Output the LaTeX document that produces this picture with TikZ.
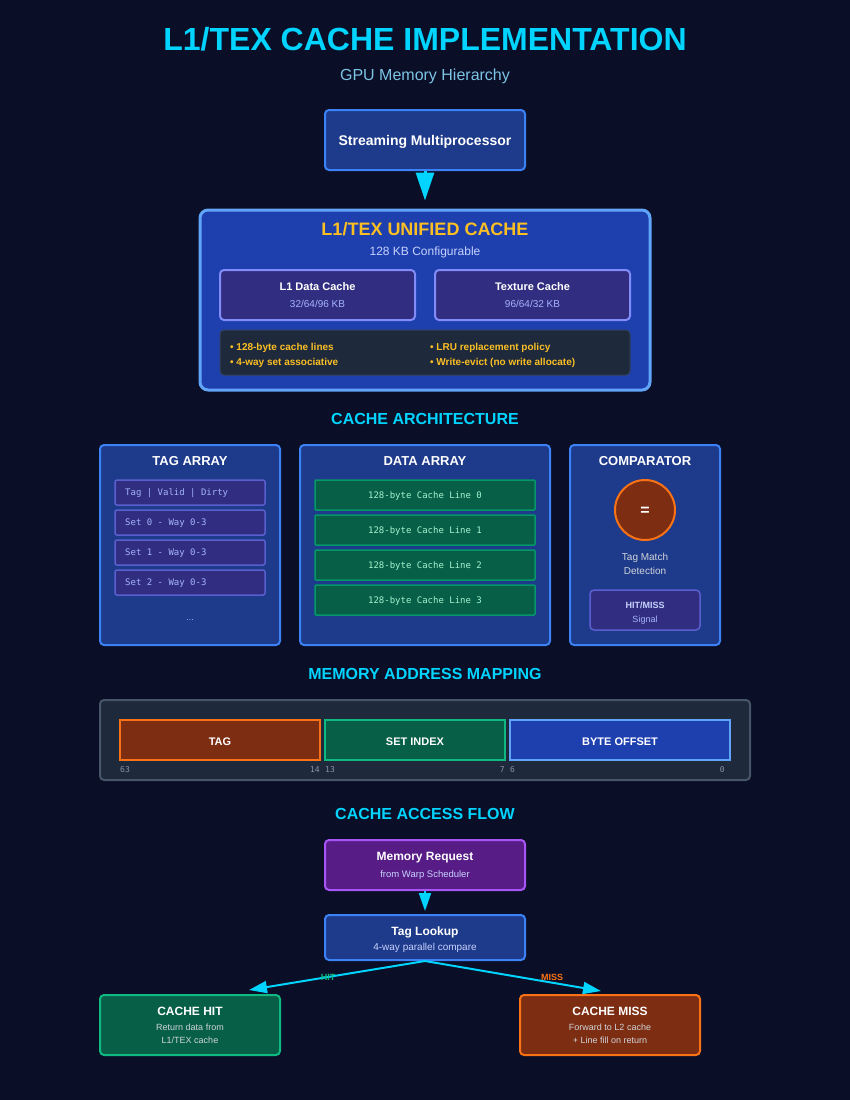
\documentclass[tikz,border=0pt]{standalone}
\usepackage{fontspec}
\setmainfont{Liberation Sans}
\setmonofont{DejaVu Sans Mono}
\usetikzlibrary{arrows.meta}
\definecolor{bgc}{HTML}{0A0E27}
\definecolor{cyanT}{HTML}{00D4FF}
\definecolor{subt}{HTML}{7DC4E4}
\definecolor{blueF}{HTML}{1E3A8A}
\definecolor{blueB}{HTML}{3B82F6}
\definecolor{l1F}{HTML}{1E40AF}
\definecolor{l1B}{HTML}{60A5FA}
\definecolor{yel}{HTML}{FBBF24}
\definecolor{indF}{HTML}{312E81}
\definecolor{indB}{HTML}{818CF8}
\definecolor{indB2}{HTML}{5A5FCF}
\definecolor{indT}{HTML}{A5B4FC}
\definecolor{slateF}{HTML}{1E293B}
\definecolor{slateB}{HTML}{334155}
\definecolor{slateB2}{HTML}{475569}
\definecolor{grnF}{HTML}{065F46}
\definecolor{grnB}{HTML}{10B981}
\definecolor{grnB2}{HTML}{059669}
\definecolor{grnT}{HTML}{A7F3D0}
\definecolor{orgF}{HTML}{7C2D12}
\definecolor{orgB}{HTML}{F97316}
\definecolor{purF}{HTML}{581C87}
\definecolor{purB}{HTML}{A855F7}
\definecolor{lav}{HTML}{C7D2FE}
\definecolor{grayT}{HTML}{D1D5DB}
\definecolor{bitT}{HTML}{8A94A6}
\newcommand\fsz[1]{\fontsize{#1}{#1}\selectfont}
\begin{document}
\begin{tikzpicture}[x=1pt,y=-1pt,
  bx/.style={draw, rounded corners=4, line width=2pt, inner sep=0pt},
  lb/.style={inner sep=0pt, anchor=base},
  lw/.style={inner sep=0pt, anchor=base west},
  le/.style={inner sep=0pt, anchor=base east},
  arrbig/.style={cyanT, line width=3pt, -{Triangle[width=18pt,length=28pt]}},
  arrsm/.style={cyanT, line width=2pt, -{Triangle[width=12pt,length=18pt]}}]
\fill[bgc] (0,0) rectangle (850,1100);
\useasboundingbox (0,0) rectangle (850,1100);

% title
\node[lb, text=cyanT, font=\fsz{32}\bfseries] (title) at (425,50.5) {L1/TEX CACHE IMPLEMENTATION};
\node[lb, text=subt, font=\fsz{16}] (subtitle) at (425,80.5) {GPU Memory Hierarchy};

% SM
\node[bx, fill=blueF, draw=blueB, minimum width=200pt, minimum height=60pt] (sm) at (425,140) {};
\node[lb, text=white, font=\fsz{14}\bfseries] (smt) at (425,145) {Streaming Multiprocessor};

% L1 unified cache
\node[bx, fill=l1F, draw=l1B, line width=3pt, rounded corners=8, minimum width=450pt, minimum height=180pt] (l1) at (425,300) {};
\draw[arrbig, shorten >=8pt] (sm.south) -- (l1.north);
\node[lb, text=yel, font=\fsz{18}\bfseries] (l1t) at (425,235.5) {L1/TEX UNIFIED CACHE};
\node[lb, text=lav, font=\fsz{12}] (l1s) at (425,255.3) {128 KB Configurable};
\node[bx, fill=indF, draw=indB, minimum width=195pt, minimum height=50pt] (l1d) at (317.5,295) {};
\node[lb, text=white, font=\fsz{11}\bfseries] (l1dt) at (317.5,290) {L1 Data Cache};
\node[lb, text=indT, font=\fsz{10}] (l1ds) at (317.5,307.6) {32/64/96 KB};
\node[bx, fill=indF, draw=indB, minimum width=195pt, minimum height=50pt] (tex) at (532.5,295) {};
\node[lb, text=white, font=\fsz{11}\bfseries] (text) at (532.5,290) {Texture Cache};
\node[lb, text=indT, font=\fsz{10}] (texs) at (532.5,307.6) {96/64/32 KB};
\node[bx, fill=slateF, draw=slateB, line width=1pt, minimum width=410pt, minimum height=45pt] (feat) at (425,352.5) {};
\node[lw, text=yel, font=\fsz{10}\bfseries] (f1) at (230,350.6) {• 128-byte cache lines};
\node[lw, text=yel, font=\fsz{10}\bfseries] (f2) at (230,365.6) {• 4-way set associative};
\node[lw, text=yel, font=\fsz{10}\bfseries] (f3) at (430,350.6) {• LRU replacement policy};
\node[lw, text=yel, font=\fsz{10}\bfseries] (f4) at (430,365.6) {• Write-evict (no write allocate)};

% cache architecture
\node[lb, text=cyanT, font=\fsz{16}\bfseries] (archh) at (425,424.7) {CACHE ARCHITECTURE};

\node[bx, fill=blueF, draw=blueB, minimum width=180pt, minimum height=200pt] (tag) at (190,545) {};
\node[lb, text=white, font=\fsz{13}\bfseries] (tagt) at (190,465.7) {TAG ARRAY};
\foreach \i/\yy/\s in {0/492.5/{Tag | Valid | Dirty},1/522.5/{Set 0 - Way 0-3},2/552.5/{Set 1 - Way 0-3},3/582.5/{Set 2 - Way 0-3}}{
  \node[bx, fill=indF, draw=indB2, line width=1.5pt, rounded corners=2, minimum width=150pt, minimum height=25pt] (tr\i) at (190,\yy) {};
  \node[lw, text=indT, font=\fsz{9}\ttfamily] (trt\i) at (125,\yy+3.3) {\s};
}
\node[lb, text=indT, font=\fsz{9}] (tagdots) at (190,620) {...};

\node[bx, fill=blueF, draw=blueB, minimum width=250pt, minimum height=200pt] (dat) at (425,545) {};
\node[lb, text=white, font=\fsz{13}\bfseries] (datt) at (425,465.7) {DATA ARRAY};
\foreach \i/\yy in {0/495,1/530,2/565,3/600}{
  \node[bx, fill=grnF, draw=grnB2, line width=1.5pt, rounded corners=1, minimum width=220pt, minimum height=30pt] (dr\i) at (425,\yy) {};
  \node[lb, text=grnT, font=\fsz{9}\ttfamily] (drt\i) at (425,\yy+3.3) {128-byte Cache Line \i};
}

\node[bx, fill=blueF, draw=blueB, minimum width=150pt, minimum height=200pt] (cmp) at (645,545) {};
\node[lb, text=white, font=\fsz{13}\bfseries] (cmpt) at (645,465.7) {COMPARATOR};
\node[circle, draw=orgB, fill=orgF, line width=2pt, minimum size=60pt, inner sep=0pt] (eq) at (645,510) {};
\node[lb, text=white, font=\fsz{16}\bfseries] (eqt) at (645,515.5) {=};
\node[lb, text=grayT, font=\fsz{10}] (cm1) at (645,560.6) {Tag Match};
\node[lb, text=grayT, font=\fsz{10}] (cm2) at (645,574.6) {Detection};
\node[bx, fill=indF, draw=indB2, line width=1.5pt, minimum width=110pt, minimum height=40pt] (hm) at (645,610) {};
\node[lb, text=lav, font=\fsz{9}\bfseries] (hmt) at (645,608.2) {HIT/MISS};
\node[lb, text=indT, font=\fsz{9}] (hms) at (645,622.2) {Signal};

% address mapping
\node[lb, text=cyanT, font=\fsz{16}\bfseries] (addrh) at (425,679.7) {MEMORY ADDRESS MAPPING};
\node[bx, fill=slateF, draw=slateB2, minimum width=650pt, minimum height=80pt] (addr) at (425,740) {};
\node[draw=orgB, fill=orgF, line width=2pt, inner sep=0pt, minimum width=200pt, minimum height=40pt] (ftag) at (220,740) {};
\node[draw=grnB, fill=grnF, line width=2pt, inner sep=0pt, minimum width=180pt, minimum height=40pt] (fset) at (415,740) {};
\node[draw=l1B, fill=l1F, line width=2pt, inner sep=0pt, minimum width=220pt, minimum height=40pt] (foff) at (620,740) {};
\node[lb, text=white, font=\fsz{11}\bfseries] (ftagt) at (220,745) {TAG};
\node[lb, text=white, font=\fsz{11}\bfseries] (fsett) at (415,745) {SET INDEX};
\node[lb, text=white, font=\fsz{11}\bfseries] (fofft) at (620,745) {BYTE OFFSET};
\node[lw, text=bitT, font=\fsz{8}\ttfamily] (b63) at (120,772) {63};
\node[le, text=bitT, font=\fsz{8}\ttfamily] (b14) at (320,772) {14};
\node[lw, text=bitT, font=\fsz{8}\ttfamily] (b13) at (325,772) {13};
\node[le, text=bitT, font=\fsz{8}\ttfamily] (b7) at (505,772) {7};
\node[lw, text=bitT, font=\fsz{8}\ttfamily] (b6) at (510,772) {6};
\node[le, text=bitT, font=\fsz{8}\ttfamily] (b0) at (725,772) {0};

% access flow
\node[lb, text=cyanT, font=\fsz{16}\bfseries] (flowh) at (425,819.7) {CACHE ACCESS FLOW};
\node[bx, fill=purF, draw=purB, minimum width=200pt, minimum height=50pt] (mr) at (425,865) {};
\node[lb, text=white, font=\fsz{12}\bfseries] (mrt) at (425,860.3) {Memory Request};
\node[lb, text=lav, font=\fsz{9.5}] (mrs) at (425,877.4) {from Warp Scheduler};
\node[bx, fill=blueF, draw=blueB, minimum width=200pt, minimum height=45pt] (tl) at (425,937.5) {};
\node[lb, text=white, font=\fsz{12}\bfseries] (tlt) at (425,935.3) {Tag Lookup};
\node[lb, text=lav, font=\fsz{10}] (tls) at (425,950.6) {4-way parallel compare};
\draw[arrsm, shorten >=3pt] (mr.south) -- (tl.north);

\node[bx, fill=grnF, draw=grnB, minimum width=180pt, minimum height=60pt] (hit) at (190,1025) {};
\node[lb, text=white, font=\fsz{12}\bfseries] (hitt) at (190,1015.3) {CACHE HIT};
\node[lb, text=grayT, font=\fsz{9}] (hit1) at (190,1030.2) {Return data from};
\node[lb, text=grayT, font=\fsz{9}] (hit2) at (190,1043.2) {L1/TEX cache};
\node[bx, fill=orgF, draw=orgB, minimum width=180pt, minimum height=60pt] (miss) at (610,1025) {};
\node[lb, text=white, font=\fsz{12}\bfseries] (misst) at (610,1015.3) {CACHE MISS};
\node[lb, text=grayT, font=\fsz{9}] (miss1) at (610,1030.2) {Forward to L2 cache};
\node[lb, text=grayT, font=\fsz{9}] (miss2) at (610,1043.2) {+ Line fill on return};

\coordinate (hitend) at (249,990);
\coordinate (missend) at (601,991);
\draw[arrsm] (tl.south) -- (hitend);
\draw[arrsm] (tl.south) -- (missend);
\node[lb, text=grnB, font=\fsz{9}\bfseries] (hitl) at (328,980) {HIT};
\node[lb, text=orgB, font=\fsz{9}\bfseries] (missl) at (552,980) {MISS};
\end{tikzpicture}
\end{document}
